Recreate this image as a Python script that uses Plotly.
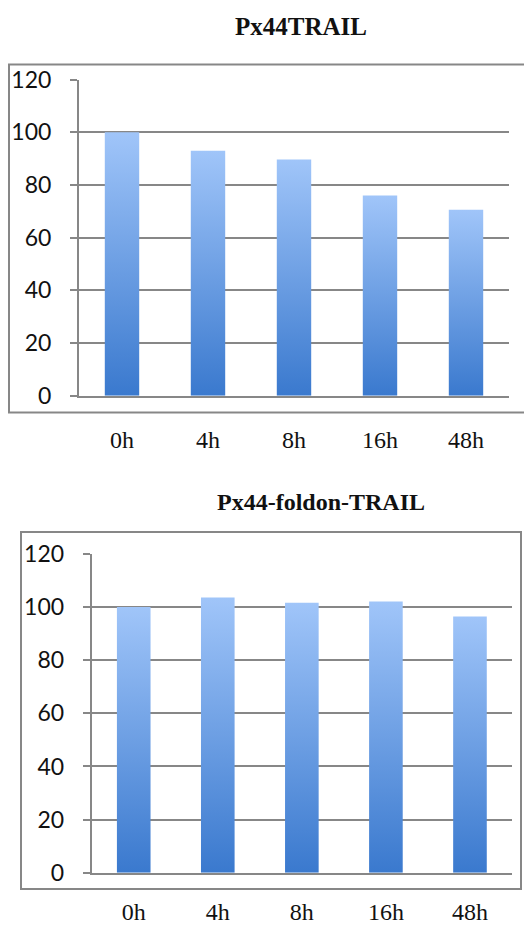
import plotly.graph_objects as go

# Time points and relative activity (%) for the two constructs
categories = ["0h", "4h", "8h", "16h", "48h"]
px44_trail = [100, 93, 89.6, 76, 70.6]
px44_foldon_trail = [100, 103.6, 101.6, 102.1, 96.5]
y_ticks = [0, 20, 40, 60, 80, 100, 120]

W, H = 524, 926
GRID = "#878787"
BAR_SCALE = [[0, "#3A79CE"], [1, "#A0C5F9"]]
HALF = 0.2  # half bar width in category units

fig = go.Figure()


def add_bars(values, xa, ya):
    for i, v in enumerate(values):
        fig.add_trace(go.Scatter(
            x=[i - HALF, i + HALF, i + HALF, i - HALF, i - HALF],
            y=[0, 0, v, v, 0],
            mode="lines", fill="toself",
            line=dict(width=0),
            fillgradient=dict(type="vertical", colorscale=BAR_SCALE, start=0, stop=v),
            hoverinfo="skip", showlegend=False,
            xaxis=xa, yaxis=ya,
        ))


add_bars(px44_trail, "x", "y")
add_bars(px44_foldon_trail, "x2", "y2")


def px_x(p):
    return p / W


def px_y(p):
    return 1 - p / H


xaxis_common = dict(
    range=[-0.5, 4.5], tickvals=list(range(len(categories))), ticktext=categories,
    showgrid=False, zeroline=False, ticks="", showline=True, linecolor=GRID, linewidth=2,
    tickfont=dict(family="Liberation Serif", size=24, color="#111"),
    fixedrange=True, automargin=False,
)
yaxis_common = dict(
    range=[0, 120], tickvals=y_ticks, showgrid=True, gridcolor=GRID, gridwidth=2,
    zeroline=False, showline=True, linecolor=GRID, linewidth=2,
    ticks="outside", ticklen=7, tickwidth=2, tickcolor=GRID,
    tickfont=dict(family="Lato", size=23, color="#111"),
    ticklabelstandoff=14, fixedrange=True, automargin=False,
)

fig.update_layout(
    width=W, height=H, margin=dict(l=0, r=0, t=0, b=0, autoexpand=False),
    paper_bgcolor="white", plot_bgcolor="white",
    xaxis=dict(domain=[px_x(79), px_x(509)], anchor="y", ticklabelstandoff=21, **xaxis_common),
    yaxis=dict(domain=[px_y(395.7), px_y(79.5)], anchor="x", **yaxis_common),
    xaxis2=dict(domain=[px_x(91.7), px_x(512)], anchor="y2", ticklabelstandoff=16, **xaxis_common),
    yaxis2=dict(domain=[px_y(872.7), px_y(554)], anchor="x2", **yaxis_common),
    shapes=[
        dict(type="rect", xref="paper", yref="paper",
             x0=px_x(9), x1=px_x(532), y0=px_y(412.5), y1=px_y(64.5),
             line=dict(color=GRID, width=2), layer="below"),
        dict(type="rect", xref="paper", yref="paper",
             x0=px_x(21), x1=px_x(521), y0=px_y(889), y1=px_y(532),
             line=dict(color=GRID, width=2), layer="below"),
    ],
    annotations=[
        dict(text="<b>Px44TRAIL</b>", xref="paper", yref="paper",
             x=px_x(301), y=px_y(26), xanchor="center", yanchor="middle", showarrow=False,
             font=dict(family="Liberation Serif", size=25, color="#111")),
        dict(text="<b>Px44-foldon-TRAIL</b>", xref="paper", yref="paper",
             x=px_x(321), y=px_y(502), xanchor="center", yanchor="middle", showarrow=False,
             font=dict(family="Liberation Serif", size=24, color="#111")),
    ],
)

fig.write_html("out.html", config=dict(displayModeBar=False))
